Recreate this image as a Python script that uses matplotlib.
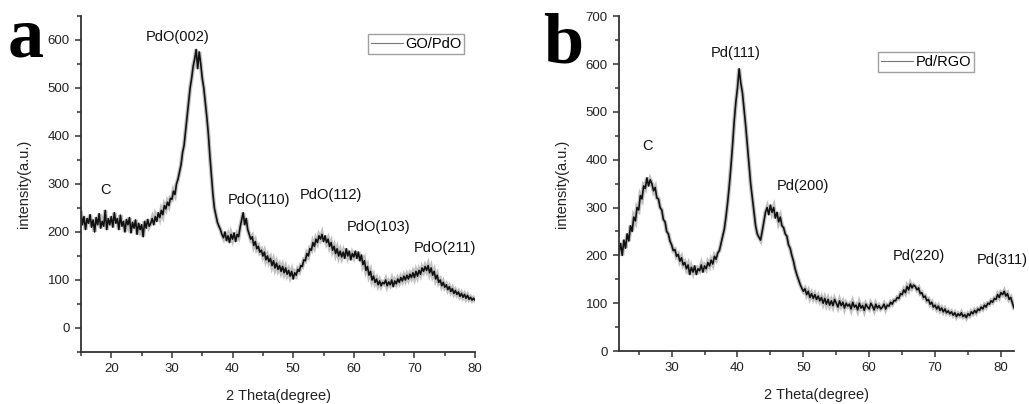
import numpy as np
import matplotlib
matplotlib.use("Agg")
import matplotlib.pyplot as plt
from matplotlib.ticker import MultipleLocator

plt.rcParams['font.family'] = ['Liberation Sans', 'DejaVu Sans']

# --- panel a: GO/PdO, 15-80 deg, step 0.25 ---
theta_a = np.arange(15, 80.001, 0.25)
int_a = [
    240, 215, 232, 205, 228, 218, 236, 210, 225, 200, 230, 215, 238, 208, 222, 212, 245, 205, 228, 215,
    232, 210, 240, 218, 228, 205, 235, 212, 222, 200, 226, 215, 230, 198, 220, 208, 225, 195, 218, 205,
    215, 190, 222, 208, 226, 212, 218, 228, 215, 232, 222, 240, 230, 245, 236, 255, 248, 262, 255, 270,
    268, 285, 278, 300, 310, 325, 340, 365, 380, 410, 440, 470, 500, 520, 545, 560, 580, 540, 575, 550,
    520, 500, 470, 440, 405, 360, 320, 280, 250, 235, 220, 212, 205, 195, 188, 200, 182, 192, 178, 195,
    185, 198, 180, 195, 190, 210, 225, 240, 215, 228, 205, 195, 185, 190, 172, 180, 165, 170, 158, 162,
    150, 158, 142, 150, 138, 145, 130, 140, 125, 135, 122, 130, 118, 128, 115, 125, 112, 120, 108, 118,
    102, 115, 110, 122, 118, 130, 128, 142, 140, 155, 150, 165, 162, 178, 170, 185, 178, 192, 185, 195,
    180, 192, 178, 185, 170, 178, 162, 170, 155, 165, 150, 160, 148, 158, 145, 165, 150, 160, 142, 155,
    148, 160, 145, 158, 140, 152, 132, 140, 120, 128, 110, 118, 100, 108, 95, 102, 90, 98, 88, 95,
    92, 100, 88, 96, 90, 100, 86, 98, 92, 102, 95, 105, 98, 108, 100, 110, 102, 112, 105, 115,
    105, 118, 108, 120, 112, 125, 118, 128, 120, 130, 115, 125, 110, 118, 102, 110, 95, 100, 88, 95,
    85, 90, 80, 86, 76, 82, 72, 78, 70, 75, 66, 72, 64, 70, 62, 68, 60, 64, 58, 62,
    58,
]
peaks_a = ["C", "PdO(002)", "PdO(110)", "PdO(112)", "PdO(103)", "PdO(211)"]
peaks_a_x = [19.0, 31.0, 44.4, 56.2, 64.0, 75.0]
peaks_a_y = [287, 606, 267, 276, 210, 167]

# --- panel b: Pd/RGO, 22-82 deg, step 0.25 ---
theta_b = np.arange(22, 82.001, 0.25)
int_b = [
    205, 225, 200, 232, 215, 245, 230, 262, 250, 280, 272, 300, 295, 325, 318, 345, 340, 362, 345, 358,
    350, 335, 342, 320, 318, 300, 295, 275, 270, 250, 245, 230, 222, 210, 212, 198, 202, 188, 195, 180,
    185, 172, 180, 160, 175, 165, 178, 160, 172, 168, 180, 165, 178, 172, 185, 178, 190, 182, 198, 192,
    205, 210, 225, 240, 255, 280, 310, 345, 385, 430, 480, 520, 550, 590, 560, 540, 505, 470, 430, 390,
    350, 320, 290, 262, 245, 238, 232, 250, 270, 290, 300, 285, 305, 290, 300, 278, 290, 270, 280, 262,
    258, 245, 240, 222, 215, 200, 188, 172, 160, 150, 140, 132, 125, 130, 118, 125, 112, 120, 110, 118,
    108, 115, 105, 112, 100, 110, 98, 108, 96, 105, 95, 108, 100, 92, 105, 95, 102, 90, 100, 94,
    98, 88, 102, 92, 96, 86, 100, 90, 95, 85, 98, 92, 88, 100, 94, 86, 98, 90, 95, 88,
    92, 98, 88, 96, 94, 102, 98, 106, 105, 112, 110, 120, 118, 128, 122, 135, 128, 140, 132, 138,
    135, 128, 132, 120, 122, 112, 115, 105, 108, 98, 102, 92, 96, 88, 94, 85, 90, 82, 88, 80,
    84, 78, 82, 75, 80, 72, 78, 74, 80, 72, 76, 70, 78, 74, 82, 78, 85, 80, 88, 85,
    92, 88, 96, 92, 100, 98, 105, 102, 110, 108, 118, 112, 122, 118, 125, 115, 120, 108, 112, 100,
    90,
]
peaks_b = ["C", "Pd(111)", "Pd(200)", "Pd(220)", "Pd(311)"]
peaks_b_x = [26.35, 39.75, 49.95, 67.5, 80.15]
peaks_b_y = [428, 623, 344, 198, 191]

fig = plt.figure(figsize=(10.29, 4.04), dpi=100)
ax1 = fig.add_axes([0.0787, 0.1287, 0.383, 0.832])
ax2 = fig.add_axes([0.6015, 0.131, 0.384, 0.829])


def style(ax, xlim, ylim, ymaj):
    ax.set_xlim(*xlim)
    ax.set_ylim(*ylim)
    for s in ['top', 'right']:
        ax.spines[s].set_visible(False)
    for s in ['left', 'bottom']:
        ax.spines[s].set_linewidth(1.3)
        ax.spines[s].set_color('#333333')
    ax.xaxis.set_major_locator(MultipleLocator(10))
    ax.xaxis.set_minor_locator(MultipleLocator(5))
    ax.yaxis.set_major_locator(MultipleLocator(ymaj))
    ax.yaxis.set_minor_locator(MultipleLocator(ymaj / 2))
    ax.tick_params(which='major', direction='out', length=4, width=1.1, labelsize=9.5, pad=4,
                   colors='#333333', labelcolor='#222222')
    ax.tick_params(which='minor', direction='out', length=3, width=1.1, colors='#333333')
    ax.set_xlabel('2 Theta(degree)', fontsize=10.5, color='#222222')
    ax.set_ylabel('intensity(a.u.)', fontsize=10.5, color='#222222')
    ax.xaxis.set_label_coords(0.5, -0.11)
    ax.yaxis.set_label_coords(-0.127, 0.5)


def legend(ax, anchor):
    leg = ax.legend(loc='upper left', bbox_to_anchor=anchor, fontsize=10.5, fancybox=False,
                    handlelength=2.2, borderpad=0.2, handletextpad=0.15, borderaxespad=0)
    leg.get_frame().set_edgecolor('#888888')
    leg.get_frame().set_linewidth(1.0)
    leg.legend_handles[0].set_color('#777777')
    leg.legend_handles[0].set_linewidth(0.8)


ax1.plot(theta_a, int_a, color='#999999', lw=3.0, alpha=0.6, solid_joinstyle='miter')
ax1.plot(theta_a, int_a, color='#111111', lw=1.2, label='GO/PdO')
style(ax1, (15, 80), (-50, 650), 100)
for t, x, y in zip(peaks_a, peaks_a_x, peaks_a_y):
    ax1.text(x, y, t, ha='center', va='center', fontsize=10.5, color='#111111')
legend(ax1, (0.728, 0.945))

ax2.plot(theta_b, int_b, color='#999999', lw=3.0, alpha=0.6, solid_joinstyle='miter')
ax2.plot(theta_b, int_b, color='#111111', lw=1.2, label='Pd/RGO')
style(ax2, (22, 82), (0, 700), 100)
for t, x, y in zip(peaks_b, peaks_b_x, peaks_b_y):
    ax2.text(x, y, t, ha='center', va='center', fontsize=10.5, color='#111111', clip_on=False)
legend(ax2, (0.656, 0.892))

fig.text(0.007, 0.985, 'a', fontsize=52, fontweight='bold', family='Liberation Serif', va='top', ha='left')
fig.text(0.528, 0.97, 'b', fontsize=52, fontweight='bold', family='Liberation Serif', va='top', ha='left')

fig.savefig('out.png', dpi=100)
